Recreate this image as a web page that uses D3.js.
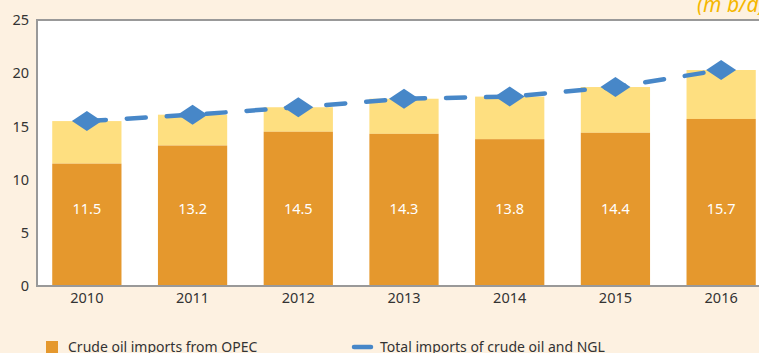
<!DOCTYPE html>
<html>
<head>
<meta charset="utf-8">
<script src="https://cdn.jsdelivr.net/npm/d3@7"></script>
<style>
  html, body { margin: 0; padding: 0; background: #fdf1e1; }
  svg { display: block; }
  text { font-family: "Noto Sans", "Open Sans", sans-serif; }
</style>
</head>
<body>
<svg id="chart" width="759" height="353"></svg>
<script>
// Crude oil imports (m b/d)
const years = ["2010", "2011", "2012", "2013", "2014", "2015", "2016"];
const opecImports = [11.5, 13.2, 14.5, 14.3, 13.8, 14.4, 15.7];
const totalImports = [15.5, 16.1, 16.8, 17.6, 17.8, 18.7, 20.3];
const yTicks = [0, 5, 10, 15, 20, 25];
const seriesNames = ["Crude oil imports from OPEC", "Total imports of crude oil and NGL"];

const colors = { opec: "#e5982d", other: "#fedf80", line: "#4787c8", axis: "#999999", text: "#333333", unit: "#f5b700" };

const svg = d3.select("#chart");
const plot = { left: 37, top: 20, bottom: 286, right: 774 };

const x = d3.scaleBand()
  .domain(years)
  .range([34, 774])
  .paddingInner(0.345)
  .paddingOuter(0.1725);

const y = d3.scaleLinear().domain([0, 25]).range([plot.bottom, plot.top]);

// plot background
svg.append("rect")
  .attr("x", plot.left).attr("y", plot.top)
  .attr("width", 759 - plot.left).attr("height", plot.bottom - plot.top)
  .attr("fill", "#ffffff");

// stacked bars: OPEC share + remainder up to the total
const rows = years.map((yr, i) => ({ year: yr, opec: opecImports[i], total: totalImports[i] }));

svg.append("g").selectAll("rect.other").data(rows).join("rect")
  .attr("x", d => x(d.year))
  .attr("width", x.bandwidth())
  .attr("y", d => y(d.total))
  .attr("height", d => y(d.opec) - y(d.total))
  .attr("fill", colors.other);

svg.append("g").selectAll("rect.opec").data(rows).join("rect")
  .attr("x", d => x(d.year))
  .attr("width", x.bandwidth())
  .attr("y", d => y(d.opec))
  .attr("height", d => y(0) - y(d.opec))
  .attr("fill", colors.opec);

// value labels inside the OPEC bars
svg.append("g").selectAll("text").data(rows).join("text")
  .attr("x", d => x(d.year) + x.bandwidth() / 2)
  .attr("y", y(7.15))
  .attr("text-anchor", "middle")
  .attr("dominant-baseline", "middle")
  .attr("fill", "#ffffff")
  .attr("font-size", 14.5)
  .text(d => d.opec.toFixed(1));

// frame: top border, left and bottom axes
const yAxis = d3.axisLeft(y).tickValues(yTicks).tickSize(0).tickPadding(8);
const gy = svg.append("g").attr("transform", `translate(${plot.left},0)`).call(yAxis);
gy.select(".domain").remove();
gy.selectAll("text").attr("font-size", 14.5).attr("fill", colors.text)
  .attr("font-family", "'Noto Sans', sans-serif");

const xAxis = d3.axisBottom(x).tickSize(0).tickPadding(7);
const gx = svg.append("g").attr("transform", `translate(0,${plot.bottom})`).call(xAxis);
gx.select(".domain").remove();
gx.selectAll("text").attr("font-size", 14.5).attr("fill", colors.text)
  .attr("font-family", "'Noto Sans', sans-serif");

svg.append("line").attr("x1", plot.left).attr("x2", 759).attr("y1", plot.top).attr("y2", plot.top)
  .attr("stroke", colors.axis).attr("stroke-width", 2);
svg.append("line").attr("x1", plot.left).attr("x2", plot.left).attr("y1", plot.top - 1).attr("y2", plot.bottom + 1)
  .attr("stroke", colors.axis).attr("stroke-width", 2);
svg.append("line").attr("x1", plot.left).attr("x2", 759).attr("y1", plot.bottom).attr("y2", plot.bottom)
  .attr("stroke", colors.axis).attr("stroke-width", 2);

// total imports: dashed line with diamond markers
const cx = d => x(d.year) + x.bandwidth() / 2;
const line = d3.line().x(cx).y(d => y(d.total));
svg.append("path")
  .datum(rows)
  .attr("d", line)
  .attr("fill", "none")
  .attr("stroke", colors.line)
  .attr("stroke-width", 4.5)
  .attr("stroke-linecap", "round")
  .attr("stroke-dasharray", "19,21");

const dw = 15, dh = 10;
svg.append("g").selectAll("path").data(rows).join("path")
  .attr("d", d => {
    const px = cx(d), py = y(d.total);
    return `M${px - dw},${py} L${px},${py - dh} L${px + dw},${py} L${px},${py + dh} Z`;
  })
  .attr("fill", colors.line);

// unit label
svg.append("text")
  .attr("x", 697).attr("y", 11.5)
  .attr("font-size", 21).attr("font-style", "italic")
  .attr("fill", colors.unit)
  .text("(m b/d)");

// legend
const legend = svg.append("g");
legend.append("rect").attr("x", 46).attr("y", 341).attr("width", 12).attr("height", 12).attr("fill", colors.opec);
legend.append("text").attr("x", 68).attr("y", 352).attr("font-size", 14).attr("fill", colors.text).text(seriesNames[0]);
legend.append("line").attr("x1", 354).attr("x2", 371).attr("y1", 347).attr("y2", 347)
  .attr("stroke", colors.line).attr("stroke-width", 4.5).attr("stroke-linecap", "round");
legend.append("text").attr("x", 380).attr("y", 352).attr("font-size", 14).attr("fill", colors.text).text(seriesNames[1]);
</script>
</body>
</html>
